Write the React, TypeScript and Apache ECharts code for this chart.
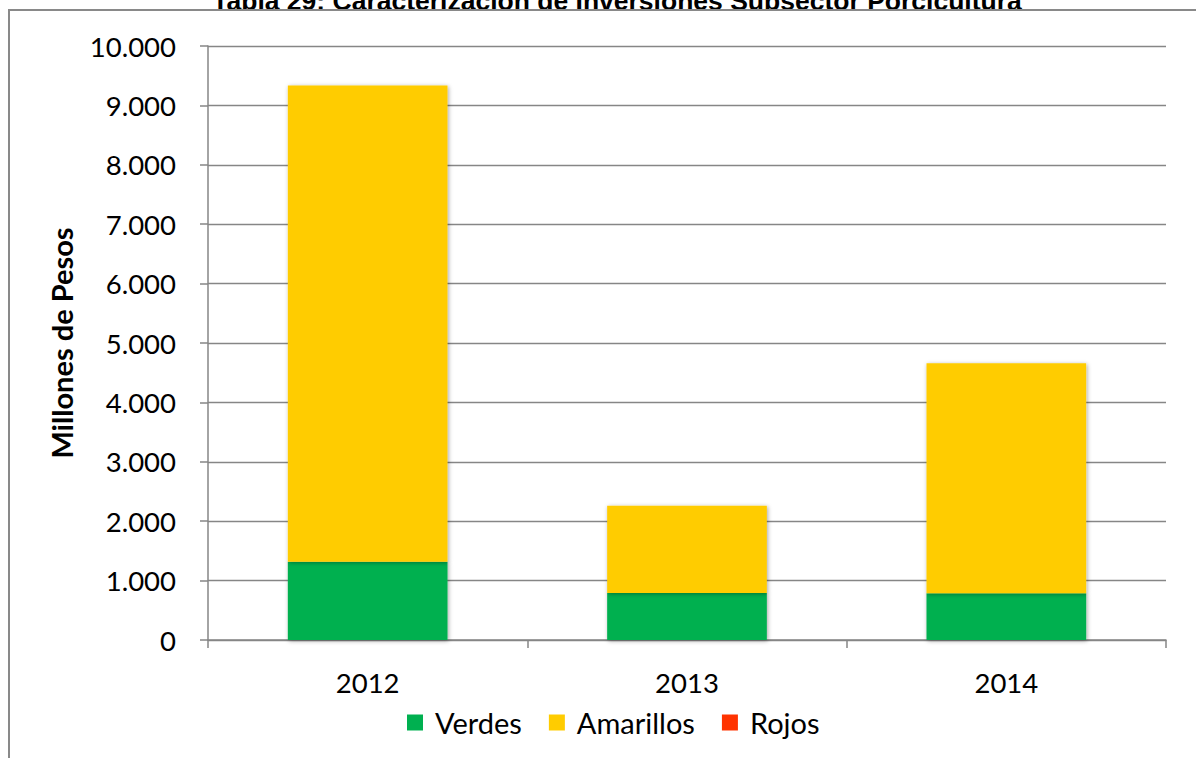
import React, { useEffect, useRef } from "react";
import * as echarts from "echarts";

const categories = ["2012", "2013", "2014"];
const verdes = [1318, 791, 788];
const amarillos = [8015, 1469, 3870];
const rojos = [0, 0, 0];
const yTicks = { min: 0, max: 10000, interval: 1000 };
const titleText = "Tabla 29: Caracterización de Inversiones Subsector Porcicultura";

const fmt = (v: number) => String(v).replace(/\B(?=(\d{3})+(?!\d))/g, ".");

export default function App() {
  const ref = useRef<HTMLDivElement>(null);
  useEffect(() => {
    document.body.style.margin = "0";
    const chart = echarts.init(ref.current!, null, { renderer: "svg" });
    const font = "Lato";
    const gray = "#868686";
    const shadow = {
      shadowBlur: 4,
      shadowColor: "rgba(0,0,0,0.35)",
      shadowOffsetX: 1,
      shadowOffsetY: 1,
    };
    chart.setOption({
      animation: false,
      backgroundColor: "#ffffff",
      grid: { left: 208, right: 30, top: 46, bottom: 118 },
      legend: {
        left: 402,
        top: 703,
        itemWidth: 16,
        itemHeight: 16,
        itemGap: 27,
        icon: "rect",
        textStyle: { fontFamily: font, fontSize: 29, color: "#000", padding: [0, 0, 0, 7] },
        data: ["Verdes", "Amarillos", "Rojos"],
      },
      xAxis: {
        type: "category",
        data: categories,
        axisLine: { lineStyle: { color: gray, width: 1.5 } },
        axisTick: { show: true, length: 8, lineStyle: { color: gray, width: 1.5 } },
        axisLabel: { fontFamily: font, fontSize: 27.5, color: "#000", margin: 28 },
      },
      yAxis: {
        type: "value",
        min: yTicks.min,
        max: yTicks.max,
        interval: yTicks.interval,
        name: "Millones de Pesos",
        nameLocation: "middle",
        nameGap: 132,
        nameRotate: 90,
        nameTextStyle: { fontFamily: font, fontSize: 29, fontWeight: "bold", color: "#000" },
        axisLine: { show: true, lineStyle: { color: gray, width: 1.5 } },
        axisTick: { show: true, length: 8, lineStyle: { color: gray, width: 1.5 } },
        axisLabel: {
          fontFamily: font,
          fontSize: 27.5,
          color: "#000",
          margin: 32,
          formatter: (v: number) => fmt(v),
        },
        splitLine: { show: true, lineStyle: { color: gray, width: 1.3 } },
      },
      series: [
        {
          name: "Verdes",
          type: "bar",
          stack: "t",
          data: verdes,
          barWidth: "50%",
          itemStyle: { color: "#00B050", ...shadow },
        },
        {
          name: "Amarillos",
          type: "bar",
          stack: "t",
          data: amarillos,
          barWidth: "50%",
          itemStyle: { color: "#FFCC00", ...shadow },
        },
        {
          name: "Rojos",
          type: "bar",
          stack: "t",
          data: rojos,
          barWidth: "50%",
          itemStyle: { color: "#FF3300" },
        },
      ],
      graphic: [
        {
          type: "text",
          x: 617,
          y: 14,
          style: {
            text: titleText,
            fontFamily: "Liberation Sans",
            fontWeight: "bold",
            fontSize: 26.5,
            fill: "#000",
            align: "center",
            verticalAlign: "bottom",
          },
        },
        {
          type: "rect",
          shape: { x: 0, y: 10, width: 1196, height: 4 },
          style: { fill: "#ffffff" },
          silent: true,
        },
        {
          type: "polyline",
          shape: { points: [[9, 758], [9, 10], [1196, 10]] },
          style: { stroke: "#898989", lineWidth: 2, fill: "none" },
          silent: true,
        },
      ],
    });
    return () => chart.dispose();
  }, []);
  return <div ref={ref} style={{ width: 1196, height: 758 }} />;
}
